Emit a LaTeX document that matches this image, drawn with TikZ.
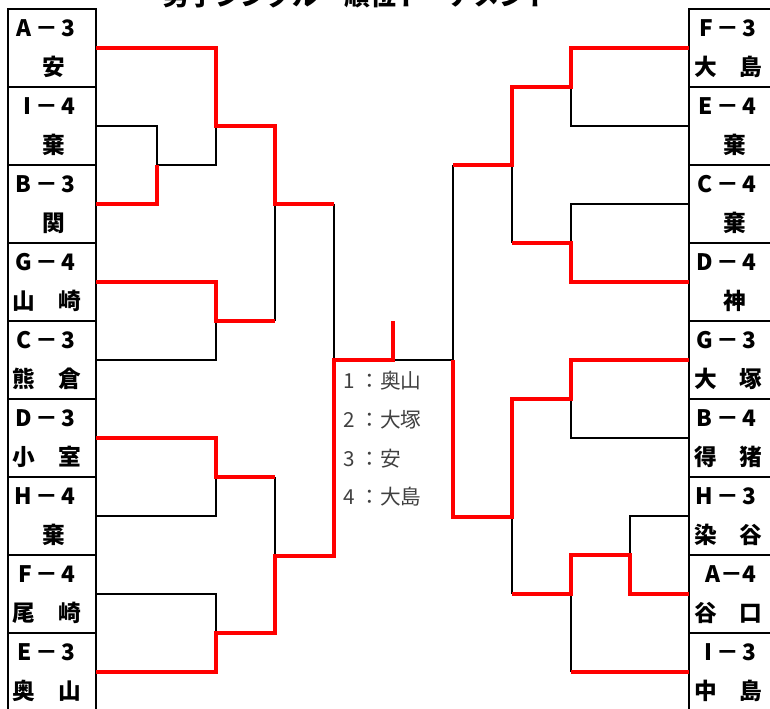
\documentclass[tikz,border=0pt]{standalone}
\usepackage{fontspec}
\newfontfamily\jp{Noto Sans CJK JP}
\usetikzlibrary{calc}
\begin{document}
\begin{tikzpicture}[x=0.75pt,y=-0.75pt,
  pbox/.style={draw,line width=1.7pt,minimum width=66pt,minimum height=58.5pt,inner sep=0pt,outer sep=0pt},
  lab/.style={font=\jp\bfseries\fontsize{17}{17}\selectfont,inner sep=0pt},
  bk/.style={line width=1.5pt,black},
  rd/.style={line width=2.6pt,red},
  rank/.style={font=\jp\fontsize{15.5}{15.5}\selectfont,text=black!75,inner sep=0pt,anchor=west}]
\useasboundingbox (0,0) rectangle (770,709);
\clip (0,0) rectangle (770,709);
% title (cut off at top)
\node[font=\jp\bfseries\fontsize{19.4}{19.4}\selectfont,anchor=base west,inner sep=0pt] (title) at (163,6) {男子シングル　順位トーナメント};
% boxes
\foreach \i in {0,...,8} {
  \node[pbox] (L\i) at (52,48+78*\i) {};
  \node[pbox] (R\i) at (733,48+78*\i) {};
}
% left labels
\foreach \i/\t in {0/A\,－\,3,1/I\,－\,4,2/B\,－\,3,3/G\,－\,4,4/C\,－\,3,5/D\,－\,3,6/H\,－\,4,7/F\,－\,4,8/E\,－\,3}
  \node[lab,anchor=east] (Lt\i) at (76,28.5+78*\i) {\t};
\foreach \i/\t in {0/F\,－\,3,1/E\,－\,4,2/C\,－\,4,3/D\,－\,4,4/G\,－\,3,5/B\,－\,4,6/H\,－\,3,7/A－4,8/I\,－\,3}
  \node[lab,anchor=east] (Rt\i) at (757,28.5+78*\i) {\t};
\foreach \i/\t in {0/安,1/棄,2/関,6/棄}
  \node[lab] (Ln\i) at (53.5,67+78*\i) {\t};
\foreach \i/\t in {3/山　崎,4/熊　倉,5/小　室,7/尾　崎,8/奥　山}
  \node[lab] (Ln\i) at (46.75,67+78*\i) {\t};
\foreach \i/\t in {1/棄,2/棄,3/神}
  \node[lab] (Rn\i) at (735,67+78*\i) {\t};
\foreach \i/\t in {0/大　島,4/大　塚,5/得　猪,6/染　谷,7/谷　口,8/中　島}
  \node[lab] (Rn\i) at (728.5,67+78*\i) {\t};
% junctions
\coordinate (m1) at (157,165);
\coordinate (m2) at (216,126);
\coordinate (m3) at (216,321);
\coordinate (m4) at (275,204);
\coordinate (m5) at (216,477);
\coordinate (m6) at (216,633);
\coordinate (m7) at (275,556);
\coordinate (m8) at (334,360);
\coordinate (ch) at (393,360);
\coordinate (top) at (393,321);
\coordinate (n1) at (571,87);
\coordinate (n2) at (571,243);
\coordinate (n3) at (512,165);
\coordinate (n4) at (571,399);
\coordinate (n5) at (630,555);
\coordinate (n6) at (571,594);
\coordinate (n7) at (512,517);
\coordinate (n8) at (453,360);
% black lines
\draw[bk] (L1.east) -| (m1);
\draw[bk] (m1) -| (m2);
\draw[bk] (L4.east) -| (m3);
\draw[bk] (m4 |- m3) -- (m4);
\draw[bk] (m4 -| m8) -- (m8);
\draw[bk] (L6.east) -| (m5);
\draw[bk] (L7.east) -| (m6);
\draw[bk] (m5 -| m7) -- (m7);
\draw[bk] (ch) -- (n8);
\draw[bk] (R1.west) -| (n1);
\draw[bk] (R2.west) -| (n2);
\draw[bk] (n3) -- (n2 -| n3);
\draw[bk] (n3 -| n8) -- (n8);
\draw[bk] (R5.west) -| (n4);
\draw[bk] (R6.west) -| (n5);
\draw[bk] (n6) -- (R8.west -| n6);
\draw[bk] (n7) -- (n6 -| n7);
% red lines
\draw[rd] (L0.east) -| (m2) -- (m2 -| m4) -- (m4) -- (m4 -| m8);
\draw[rd] (L2.east) -| (m1);
\draw[rd] (L3.east) -| (m3) -- (m3 -| m4);
\draw[rd] (L5.east) -| (m5) -- (m5 -| m7);
\draw[rd] (L8.east) -| (m6) -- (m6 -| m7) -- (m7) -- (m7 -| m8) -- (m8) -- (ch) -- (top);
\draw[rd] (R0.west) -| (n1) -- (n1 -| n3) -- (n3) -- (n3 -| n8);
\draw[rd] (R3.west) -| (n2) -- (n2 -| n3);
\draw[rd] (R4.west) -| (n4) -- (n4 -| n7) -- (n7) -- (n7 -| n8) -- (n8);
\draw[rd] (R7.west) -| (n5) -- (n5 -| n6) -- (n6) -- (n6 -| n7);
\draw[rd] (R8.west) -- (R8.west -| n6);
% ranking
\node[rank] (r1) at (343,381) {1 ：奥山};
\node[rank] (r2) at (343,420) {2 ：大塚};
\node[rank] (r3) at (343,458.5) {3 ：安};
\node[rank] (r4) at (343,497) {4 ：大島};
\end{tikzpicture}
\end{document}
